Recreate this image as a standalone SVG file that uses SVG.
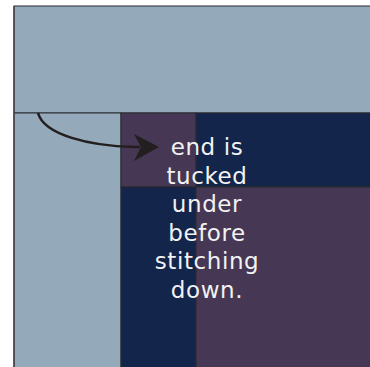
<svg xmlns="http://www.w3.org/2000/svg" width="370" height="367" viewBox="0 0 370 367">
  <style>
    .lb { fill: #94a9b9; }
    .pu { fill: #463754; }
    .nv { fill: #13254b; }
    .edge { stroke: #2b2b2f; stroke-width: 1; }
    .lbl { font-family: "DejaVu Sans", sans-serif; font-size: 23px; fill: #f2f2f2; text-anchor: middle; letter-spacing: 0.6px; }
  </style>
  <rect width="370" height="367" fill="#ffffff"/>
  <g id="top-band">
    <rect class="lb edge" x="14" y="6" width="357" height="107"/>
  </g>
  <g id="left-column">
    <rect class="lb edge" x="14" y="113" width="107" height="255"/>
  </g>
  <g id="tucked-end">
    <rect class="pu edge" x="121" y="113" width="75" height="74"/>
  </g>
  <g id="top-right">
    <rect class="nv edge" x="196" y="113" width="175" height="74"/>
  </g>
  <g id="lower-navy">
    <rect class="nv edge" x="121" y="187" width="75" height="181"/>
  </g>
  <g id="lower-purple">
    <rect class="pu edge" x="196" y="187" width="175" height="181"/>
  </g>
  <line x1="14" y1="6" x2="14" y2="367" stroke="#4a4a50" stroke-width="1.6"/>
  <g id="connectors">
    <path d="M38,113 C44,135 90,146 134,147 L140,147" fill="none" stroke="#231f20" stroke-width="2.6"/>
    <path d="M159,147 L134,134 L141,147 L134,161 Z" fill="#231f20"/>
  </g>
  <g id="label">
    <text class="lbl" x="207" y="155">end is</text>
    <text class="lbl" x="207" y="183.5">tucked</text>
    <text class="lbl" x="207" y="212">under</text>
    <text class="lbl" x="207" y="240.5">before</text>
    <text class="lbl" x="207" y="269">stitching</text>
    <text class="lbl" x="207" y="297.5">down.</text>
  </g>
</svg>
